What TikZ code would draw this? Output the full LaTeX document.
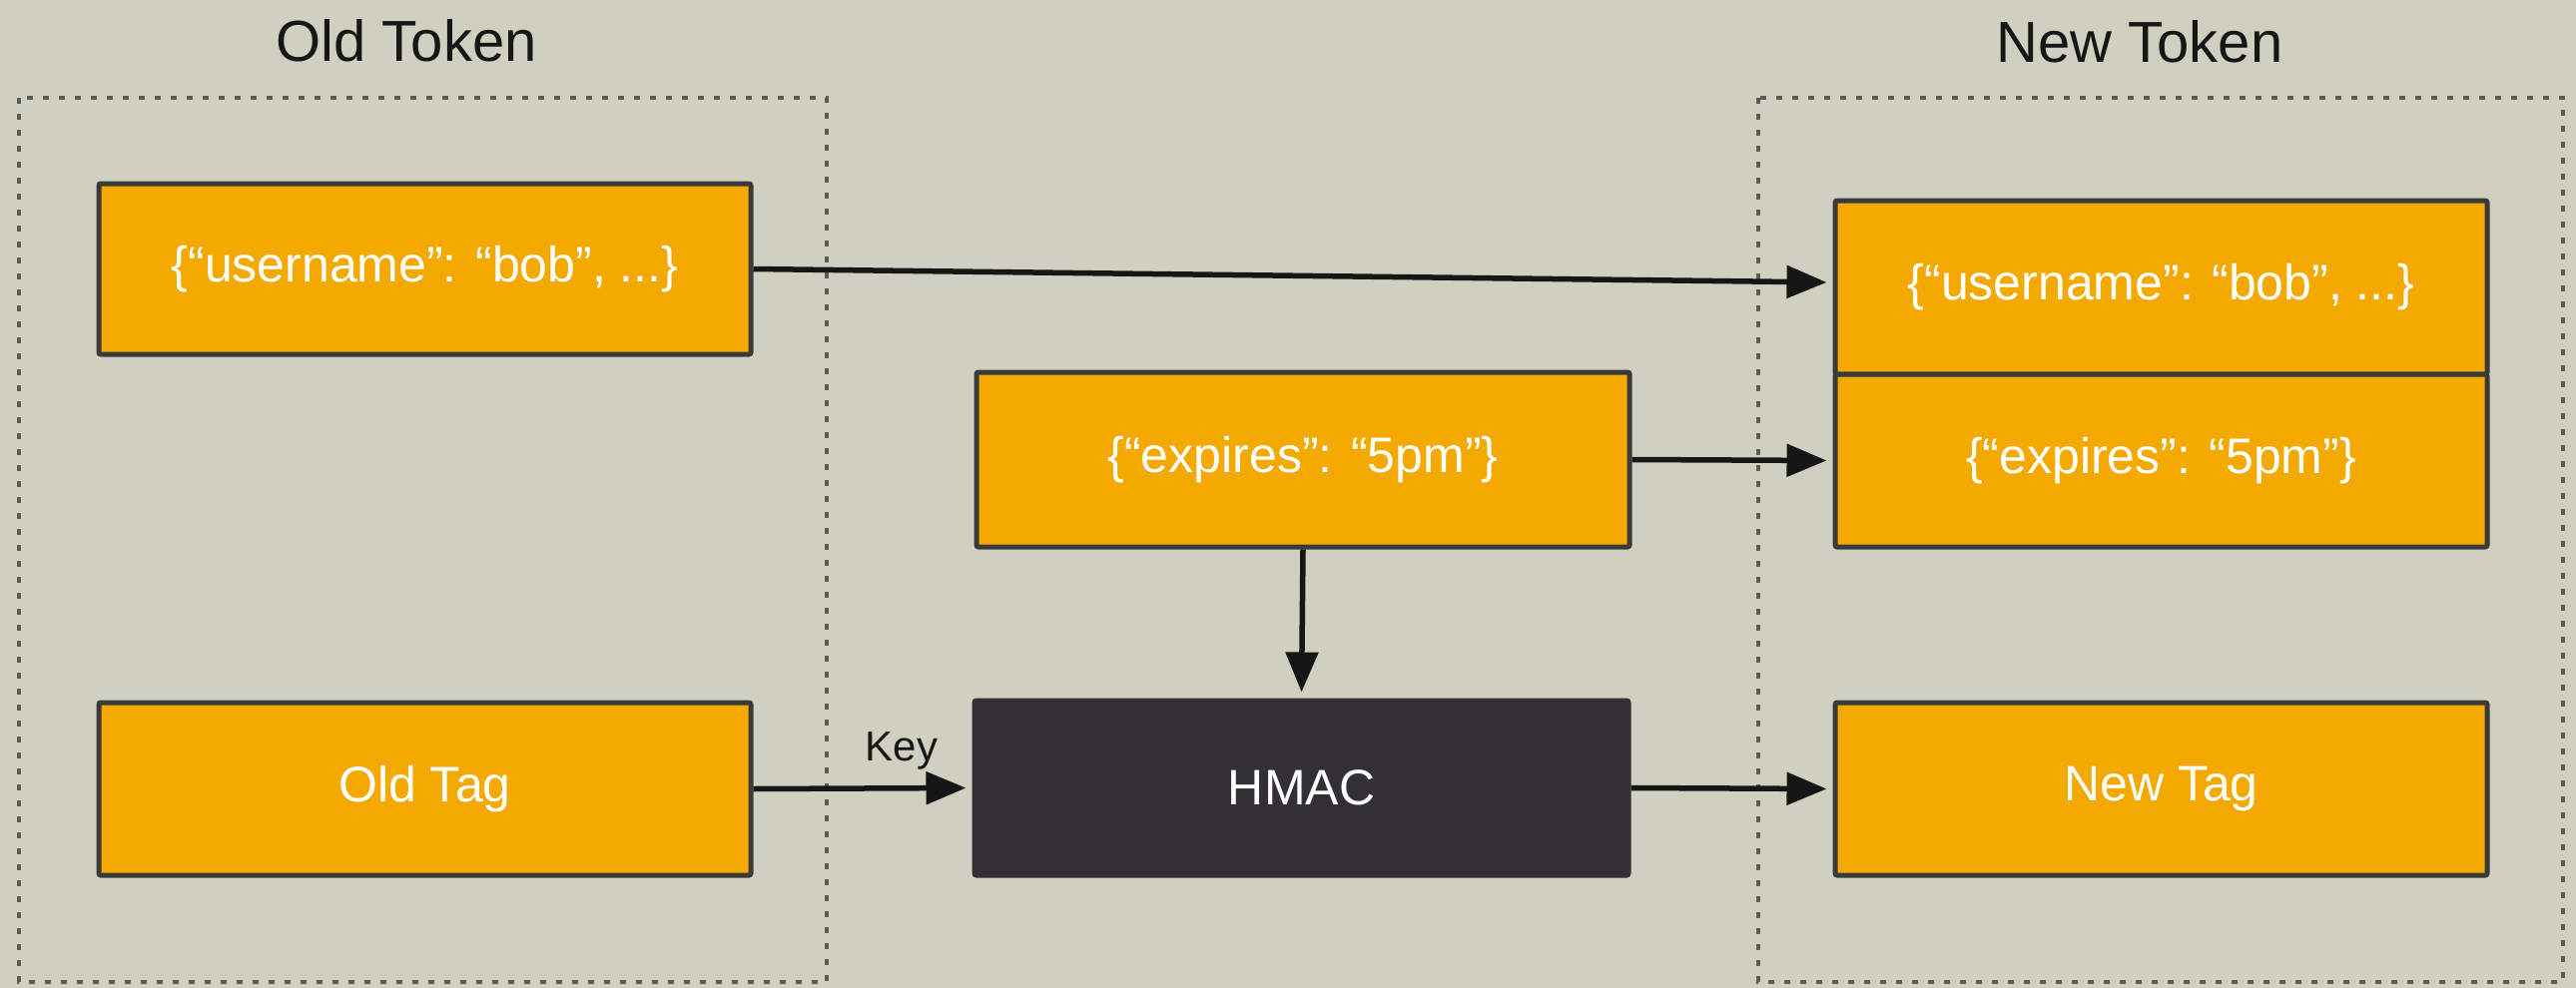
\documentclass[tikz,border=0pt]{standalone}
\usepackage{fontspec}
\setmainfont{Liberation Sans}
\usetikzlibrary{arrows.meta}
\definecolor{bg}{HTML}{CFD0C0}
\definecolor{tokenorange}{HTML}{F4A900}
\definecolor{hmacdark}{HTML}{323034}
\definecolor{edge}{HTML}{3A3A3A}
\definecolor{dotgray}{HTML}{5C5C57}
\definecolor{ink}{HTML}{161616}
\begin{document}
\begin{tikzpicture}[x=1pt,y=-1pt,
  field/.style={draw=edge, line width=5pt, fill=tokenorange, rounded corners=2pt,
    minimum width=653pt, minimum height=173pt, inner sep=0pt,
    text=white, font=\fontsize{50}{60}\selectfont},
  hmacbox/.style={field, draw=hmacdark, fill=hmacdark, minimum width=655pt},
  group/.style={draw=dotgray, line width=3.5pt, dash pattern=on 6pt off 10pt},
  flow/.style={draw=ink, line width=5.5pt, shorten >=6pt,
    -{Triangle[length=40pt,width=32pt]}},
  heading/.style={font=\fontsize{58}{70}\selectfont, text=ink, anchor=base}]

% canvas
\fill[bg] (0,0) rectangle (2580,990);
\useasboundingbox (0,0) rectangle (2580,990);

% token frames
\draw[group] (19,98) rectangle (828,984);
\draw[group] (1761,98) rectangle (2567,984);

% headings
\node[heading] (oldtitle) at (407,62) {Old Token};
\node[heading] (newtitle) at (2143,63) {New Token};

% old token
\node[field, minimum height=171pt] (ou) at (425.5,269.5) {\{“username”: “bob”, ...\}};
\node[field] (ot) at (425.5,790.5) {Old Tag};

% middle
\node[field, minimum width=654pt, minimum height=175pt] (ex) at (1305,460.5) {\{“expires”: “5pm”\}};
\node[hmacbox, minimum height=175pt] (hm) at (1303.5,789.5) {HMAC};

% new token
\node[field, minimum height=174pt] (nu) at (2164.5,288) {\{“username”: “bob”, ...\}};
\node[field] (ne) at (2164.5,461.5) {\{“expires”: “5pm”\}};
\node[field] (nt) at (2164.5,790.5) {New Tag};

% key label
\node[font=\fontsize{42}{50}\selectfont, text=ink, anchor=base] (key) at (903,762) {Key};

% connectors
\draw[flow] (ou.east) -- ([yshift=5pt]nu.west);
\draw[flow] (ex.east) -- (ne.west);
\draw[flow] (ex.south) -- (hm.north);
\draw[flow] (ot.east) -- (hm.west);
\draw[flow] (hm.east) -- (nt.west);
\end{tikzpicture}
\end{document}
